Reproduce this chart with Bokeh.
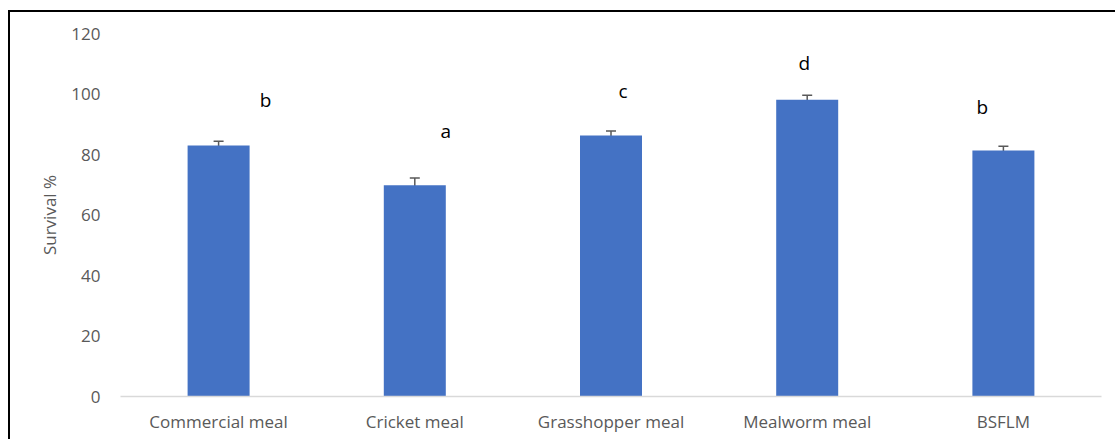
from bokeh.plotting import figure
from bokeh.models import ColumnDataSource, Range1d, Whisker, TeeHead, InlineStyleSheet
from bokeh.core.properties import value
from bokeh.embed import file_html
from bokeh.resources import INLINE

# Survival by diet
diets = ["Commercial meal", "Cricket meal", "Grasshopper meal", "Mealworm meal", "BSFLM"]
survival = [83.0, 69.8, 86.3, 98.1, 81.3]
std_err = [1.4, 2.4, 1.45, 1.5, 1.4]
groups = ["b", "a", "c", "d", "b"]
y_ticks = [0, 20, 40, 60, 80, 100, 120]

FONT = "Open Sans"
GREY = "#595959"

# letter placement relative to each bar (pixels)
letter_dx = [47, 31, 12, -3, -21]
letter_dy = [-45, -54, -44, -37, -44]

src = ColumnDataSource(dict(
    diet=diets,
    surv=survival,
    lo=[v - e for v, e in zip(survival, std_err)],
    hi=[v + e for v, e in zip(survival, std_err)],
    grp=groups,
    dx=letter_dx,
    dy=letter_dy,
))

p = figure(
    x_range=diets, y_range=Range1d(0, 120),
    width=1115, height=439,
    output_backend="svg", toolbar_location=None,
    min_border_left=120, min_border_right=14,
    min_border_top=33, min_border_bottom=43,
)
p.outline_line_color = None
p.background_fill_color = "white"
p.border_fill_color = "white"
p.xgrid.grid_line_color = None
p.ygrid.grid_line_color = None
p.x_range.range_padding = 0

p.vbar(x="diet", top="surv", width=0.316, source=src,
       fill_color="#4472C4", line_color=None)

p.add_layout(Whisker(source=src, base="diet", lower="lo", upper="hi",
                     line_color=GREY, line_width=1.5,
                     upper_head=TeeHead(size=10, line_color=GREY, line_width=1.5),
                     lower_head=TeeHead(size=10, line_color=GREY, line_width=1.5)))

p.text(x="diet", y="surv", text="grp", source=src,
       x_offset="dx", y_offset="dy",
       text_font=value(FONT), text_font_size="19px", text_color="black",
       text_align="center", text_baseline="middle")

# y axis
p.yaxis.ticker = y_ticks
p.yaxis.axis_line_color = None
p.yaxis.major_tick_line_color = None
p.yaxis.minor_tick_line_color = None
p.yaxis.major_label_standoff = 14
p.yaxis.major_label_text_font = FONT
p.yaxis.major_label_text_font_size = "17px"
p.yaxis.major_label_text_color = GREY
p.yaxis.axis_label = "Survival %"
p.yaxis.axis_label_text_font = FONT
p.yaxis.axis_label_text_font_size = "17px"
p.yaxis.axis_label_text_font_style = "normal"
p.yaxis.axis_label_text_color = GREY
p.yaxis.axis_label_standoff = 7

# x axis
p.xaxis.axis_line_color = "#D9D9D9"
p.xaxis.axis_line_width = 1.5
p.xaxis.major_tick_line_color = None
p.xaxis.minor_tick_line_color = None
p.xaxis.major_label_standoff = 7
p.xaxis.major_label_text_font = FONT
p.xaxis.major_label_text_font_size = "17px"
p.xaxis.major_label_text_color = GREY

# chart border along the top and left edges
p.stylesheets = [InlineStyleSheet(css="""
:host { position: relative; }
:host::after {
  content: ""; position: absolute; pointer-events: none;
  left: 8px; top: 10px; right: -20px; bottom: -20px;
  border-left: 2px solid black; border-top: 2px solid black;
}
""")]

open("out.html", "w").write(file_html(p, INLINE))
